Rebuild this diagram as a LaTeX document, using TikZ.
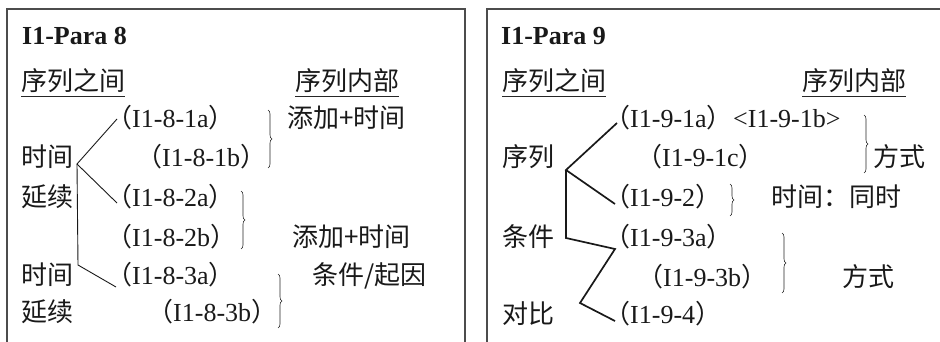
\documentclass[tikz,border=0pt]{standalone}
\usepackage{fontspec}
\setmainfont{Liberation Serif}
\newfontfamily\cjk{Noto Sans CJK SC}
\usetikzlibrary{decorations.pathreplacing}
\newcommand{\pp}[1]{{\cjk （}#1{\cjk ）}}
\begin{document}
\begin{tikzpicture}[x=1pt,y=-1pt,
  txt/.style={inner sep=0pt,anchor=base west,text=black!90,font=\fontsize{26}{30}\selectfont},
  ttl/.style={txt,font=\fontsize{26}{30}\selectfont\bfseries},
  frame/.style={draw=black!70,line width=1.5pt},
  uline/.style={draw=black!85,line width=0.8pt},
  thin/.style={draw=black!90,line width=0.9pt},
  thick/.style={draw=black!90,line width=1.7pt,line join=miter},
  brc/.style={draw=black!85,line width=0.6pt,decorate,decoration={brace,amplitude=4pt}}]
\useasboundingbox (0,0) rectangle (940,342);
% frames
\draw[frame] (7,345) -- (7,9) -- (465,9) -- (465,345);
\draw[frame] (487,345) -- (487,9) -- (945,9);
% ---------- left panel ----------
\node[ttl] (t8) at (22,45) {I1-Para 8};
\node[txt] (h1) at (21,91) {\cjk 序列之间};
\node[txt] (h2) at (295,91) {\cjk 序列内部};
\draw[uline] ([shift={(0,5)}]h1.base west) -- ([shift={(0,5)}]h1.base east);
\draw[uline] ([shift={(0,5)}]h2.base west) -- ([shift={(0,5)}]h2.base east);
\node[txt] (l2) at (21,167) {\cjk 时间};
\node[txt] (l3) at (21,206) {\cjk 延续};
\node[txt] (l5) at (21,284) {\cjk 时间};
\node[txt] (l6) at (21,321) {\cjk 延续};
\node[txt] (a1) at (106,128) {\pp{I1-8-1a}};
\node[txt] (a2) at (136,167) {\pp{I1-8-1b}};
\node[txt] (a3) at (106,206) {\pp{I1-8-2a}};
\node[txt] (a4) at (106,246) {\pp{I1-8-2b}};
\node[txt] (a5) at (106,284) {\pp{I1-8-3a}};
\node[txt] (a6) at (147,321) {\pp{I1-8-3b}};
\node[txt] (r1) at (287,128) {\cjk 添加+时间};
\node[txt] (r4) at (292,246) {\cjk 添加+时间};
\node[txt] (r5) at (312,284) {\cjk 条件/起因};
\coordinate (v1) at (77,164);
\coordinate (c1) at (78,265);
\draw[thin] ([shift={(11,-9)}]a1.base west) -- (v1) -- ([shift={(11,-3)}]a3.base west);
\draw[thin] (v1) -- (c1) -- ([shift={(10,3)}]a5.base west);
\coordinate (b1s) at (268,110); \coordinate (b1e) at (268,168);
\coordinate (b2s) at (241,191); \coordinate (b2e) at (241,249);
\coordinate (b3s) at (278,274); \coordinate (b3e) at (278,328);
\draw[brc] (b1s) -- (b1e);
\draw[brc] (b2s) -- (b2e);
\draw[brc] (b3s) -- (b3e);
% ---------- right panel ----------
\node[ttl] (t9) at (501,45) {I1-Para 9};
\node[txt] (h3) at (502,91) {\cjk 序列之间};
\node[txt] (h4) at (802,91) {\cjk 序列内部};
\draw[uline] ([shift={(0,5)}]h3.base west) -- ([shift={(0,5)}]h3.base east);
\draw[uline] ([shift={(0,5)}]h4.base west) -- ([shift={(0,5)}]h4.base east);
\node[txt] (m2) at (502,167) {\cjk 序列};
\node[txt] (m4) at (502,246) {\cjk 条件};
\node[txt] (m6) at (502,323) {\cjk 对比};
\node[txt] (p1) at (604,128) {\pp{I1-9-1a}};
\node[txt] (p1b) at (733,128) {<I1-9-1b>};
\node[txt] (p2) at (636,167) {\pp{I1-9-1c}};
\node[txt] (p3) at (604,206) {\pp{I1-9-2}};
\node[txt] (p4) at (604,246) {\pp{I1-9-3a}};
\node[txt] (p5) at (637,286) {\pp{I1-9-3b}};
\node[txt] (p6) at (604,323) {\pp{I1-9-4}};
\node[txt] (s2) at (873,167) {\cjk 方式};
\node[txt] (s3) at (771,206) {\cjk 时间：同时};
\node[txt] (s5) at (842,286) {\cjk 方式};
\coordinate (v2) at (566,170);
\coordinate (c2) at (566,238);
\coordinate (z2) at (580,303);
\draw[thick] ([shift={(13,-5)}]p1.base west) -- (v2) -- ([shift={(11,-2)}]p3.base west);
\draw[thick] (v2) -- (c2) -- ([shift={(11,3)}]p4.base west) -- (z2) -- ([shift={(11,-2)}]p6.base west);
\coordinate (b4s) at (864,115); \coordinate (b4e) at (864,173);
\coordinate (b5s) at (730,184); \coordinate (b5e) at (730,216);
\coordinate (b6s) at (782,233); \coordinate (b6e) at (782,293);
\draw[brc] (b4s) -- (b4e);
\draw[brc] (b5s) -- (b5e);
\draw[brc] (b6s) -- (b6e);
\end{tikzpicture}
\end{document}
